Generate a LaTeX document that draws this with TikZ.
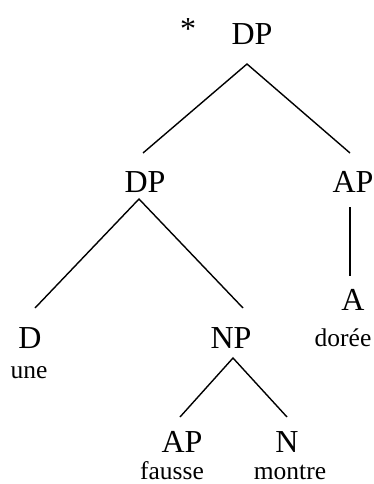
\documentclass[tikz,border=0pt]{standalone}
\usepackage{fontspec}
\setmainfont{Liberation Serif}
\usepackage{tikz}
\begin{document}
\begin{tikzpicture}[x=1pt,y=-1pt,cat/.style={anchor=base,inner sep=0,font=\fontsize{32}{32}\selectfont},word/.style={anchor=base,inner sep=0,font=\fontsize{25.5}{26}\selectfont},edge/.style={line width=1.4pt}]
  \useasboundingbox (0,0) rectangle (374,484);
  % labels
  \node[cat] (star) at (188,40) {*};
  \node[cat] (dp0) at (252,45) {DP};
  \node[cat] (dp1) at (145,192) {DP};
  \node[cat] (ap1) at (353,192) {AP};
  \node[cat] (d) at (30,348) {D};
  \node[cat] (np) at (231,348) {NP};
  \node[cat] (a) at (353,310) {A};
  \node[cat] (ap2) at (182,452) {AP};
  \node[cat] (n) at (287,452) {N};
  \node[word] (une) at (29,378) {une};
  \node[word] (doree) at (343,346) {dorée};
  \node[word] (fausse) at (172,479) {fausse};
  \node[word] (montre) at (290,479) {montre};
  % line ends
  \coordinate (dp0f) at (247,64); \coordinate (dp1h) at (143,153); \coordinate (ap1h) at (350,153);
  \coordinate (dp1f) at (139,199); \coordinate (dh) at (35,308); \coordinate (nph) at (243,308);
  \coordinate (ap1f) at (350,207); \coordinate (ah) at (350,276);
  \coordinate (npf) at (233,358); \coordinate (ap2h) at (180,417); \coordinate (nh) at (287,417);
  \draw[edge] (dp1h)--(dp0f)--(ap1h);
  \draw[edge] (dh)--(dp1f)--(nph);
  \draw[edge] (ap1f)--(ah);
  \draw[edge] (ap2h)--(npf)--(nh);
\end{tikzpicture}
\end{document}
